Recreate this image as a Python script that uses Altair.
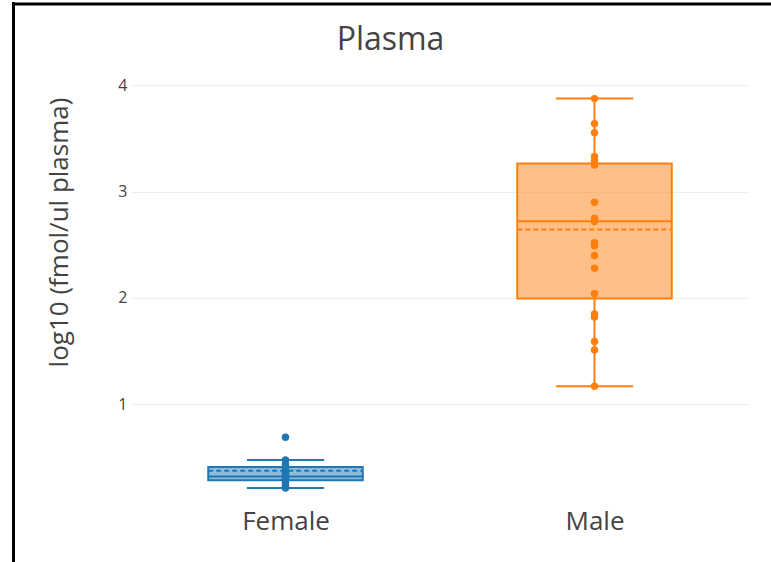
import json
import altair as alt
import pandas as pd

categories = ["Female", "Male"]
colors = ["#1f77b4", "#ff7f0e"]
chart_title = "Plasma"

female_values = [0.213, 0.225, 0.24, 0.26, 0.28, 0.29, 0.30, 0.31, 0.32, 0.33,
                 0.34, 0.35, 0.36, 0.38, 0.40, 0.42, 0.44, 0.476, 0.69]
male_values = [3.875, 3.64, 3.555, 3.33, 3.29, 3.25, 2.90, 2.75, 2.72, 2.52,
               2.49, 2.40, 2.28, 2.04, 1.85, 1.82, 1.59, 1.51, 1.17]

box_low = [0.213, 1.169]
box_q1 = [0.285, 1.994]
box_median = [0.32, 2.721]
box_q3 = [0.411, 3.264]
box_high = [0.476, 3.875]
box_mean = [0.374, 2.643]

y_ticks = [1, 2, 3, 4]

points_df = pd.DataFrame({
    "category": ["Female"] * len(female_values) + ["Male"] * len(male_values),
    "idx": [0] * len(female_values) + [1] * len(male_values),
    "value": female_values + male_values,
})
box_df = pd.DataFrame({
    "category": categories,
    "idx": list(range(len(categories))),
    "low": box_low, "q1": box_q1, "median": box_median,
    "q3": box_q3, "high": box_high, "mean": box_mean,
})

FONT = "Open Sans"
xscale = alt.Scale(domain=[-0.5, 1.5], nice=False, zero=False)
yscale = alt.Scale(domain=[0.1, 4.05], nice=False, zero=False)
xaxis = alt.Axis(values=[0, 1], labelExpr=f"{json.dumps(categories)}[datum.value]",
                 title=None, grid=False, domain=False, ticks=False,
                 labelFontSize=26, labelColor="#444", labelFont=FONT, labelPadding=8)
yaxis = alt.Axis(values=y_ticks, format="d", title="log10 (fmol/ul plasma)",
                 grid=True, gridColor="#eeeeee", gridWidth=1, domain=False, ticks=False,
                 labelFontSize=16, labelColor="#444", labelFont=FONT, labelPadding=4,
                 titleFontSize=26, titleFont=FONT, titleFontWeight="normal", titleColor="#444",
                 titleAngle=270, titleAlign="center", titleBaseline="alphabetic",
                 titleX=-64, titleY=152)
cscale = alt.Scale(domain=categories, range=colors)

base = alt.Chart(box_df).transform_calculate(
    left="datum.idx - 0.25", right="datum.idx + 0.25",
    capl="datum.idx - 0.125", capr="datum.idx + 0.125")

rect = base.mark_rect(fillOpacity=0.5, strokeWidth=2).encode(
    x=alt.X("left:Q", scale=xscale, axis=xaxis), x2="right:Q",
    y=alt.Y("q1:Q", scale=yscale, axis=yaxis), y2="q3:Q",
    fill=alt.Fill("category:N", scale=cscale, legend=None),
    stroke=alt.Stroke("category:N", scale=cscale, legend=None))

col = alt.Color("category:N", scale=cscale, legend=None)

whisk_hi = base.mark_rule(strokeWidth=2).encode(
    x=alt.X("idx:Q", scale=xscale, axis=xaxis),
    y=alt.Y("q3:Q", scale=yscale, axis=yaxis), y2="high:Q", color=col)
whisk_lo = base.mark_rule(strokeWidth=2).encode(
    x=alt.X("idx:Q", scale=xscale, axis=xaxis),
    y=alt.Y("low:Q", scale=yscale, axis=yaxis), y2="q1:Q", color=col)
cap_hi = base.mark_rule(strokeWidth=2).encode(
    x=alt.X("capl:Q", scale=xscale, axis=xaxis), x2="capr:Q",
    y=alt.Y("high:Q", scale=yscale, axis=yaxis), color=col)
cap_lo = base.mark_rule(strokeWidth=2).encode(
    x=alt.X("capl:Q", scale=xscale, axis=xaxis), x2="capr:Q",
    y=alt.Y("low:Q", scale=yscale, axis=yaxis), color=col)
med = base.mark_rule(strokeWidth=2).encode(
    x=alt.X("left:Q", scale=xscale, axis=xaxis), x2="right:Q",
    y=alt.Y("median:Q", scale=yscale, axis=yaxis), color=col)
mean = base.mark_rule(strokeWidth=2, strokeDash=[5, 3]).encode(
    x=alt.X("left:Q", scale=xscale, axis=xaxis), x2="right:Q",
    y=alt.Y("mean:Q", scale=yscale, axis=yaxis), color=col)

pts = alt.Chart(points_df).mark_circle(size=55, opacity=1).encode(
    x=alt.X("idx:Q", scale=xscale, axis=xaxis),
    y=alt.Y("value:Q", scale=yscale, axis=yaxis), color=col)

frame_df = pd.DataFrame({"title": [chart_title]})
frame_left = alt.Chart(frame_df).mark_rule(color="#000", strokeWidth=3).encode(
    x=alt.value(-117.5), y=alt.value(-78), y2=alt.value(482))
frame_top = alt.Chart(frame_df).mark_rule(color="#000", strokeWidth=3).encode(
    x=alt.value(-119), x2=alt.value(640), y=alt.value(-76))
title_text = alt.Chart(frame_df).mark_text(
    font=FONT, fontSize=32, color="#444", align="center", baseline="alphabetic").encode(
    text="title:N", x=alt.value(259.5), y=alt.value(-30))

chart = alt.layer(rect, whisk_hi, whisk_lo, cap_hi, cap_lo, med, mean, pts,
                  frame_left, frame_top, title_text).properties(
    width=618, height=420,
    autosize=alt.AutoSizeParams(type="none"),
    padding={"left": 131, "top": 80, "right": 22, "bottom": 62},
    background="white",
).configure_view(stroke=None)

chart.save("out.html", embed_options={"renderer": "svg", "actions": False})
